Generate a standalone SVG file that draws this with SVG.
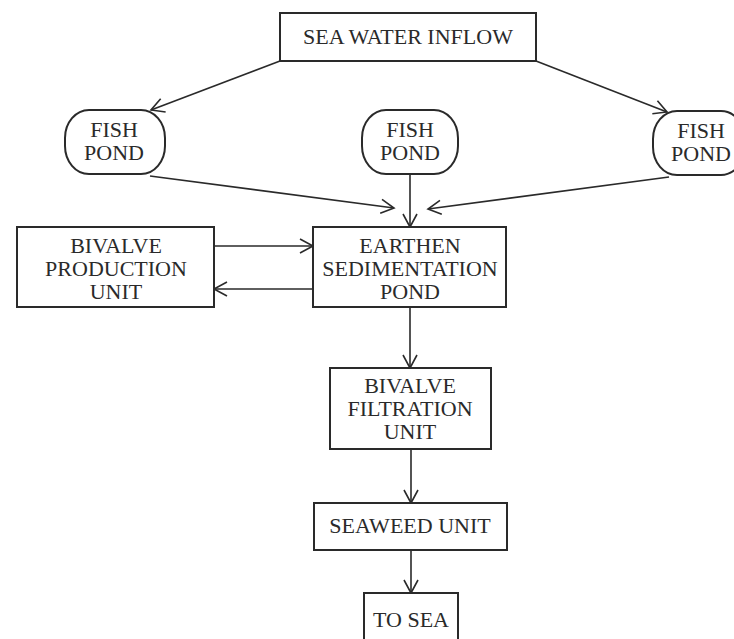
<svg xmlns="http://www.w3.org/2000/svg" width="734" height="639" viewBox="0 0 734 639">
<style>
.box{fill:#fff;stroke:#2a2a2a;stroke-width:2}
.lbl{font-family:'Liberation Serif','DejaVu Serif','Times New Roman',serif;font-size:22px;fill:#2a2a2a;text-anchor:middle}
.con{fill:none;stroke:#2a2a2a;stroke-width:1.6;marker-end:url(#arr)}
</style>
<defs>
<marker id="arr" markerUnits="userSpaceOnUse" markerWidth="18" markerHeight="18" viewBox="0 0 18 18" refX="16" refY="9" orient="auto">
<path d="M3,2 L16,9 L3,16" fill="none" stroke="#2a2a2a" stroke-width="1.6"/>
</marker>
</defs>
<rect width="734" height="639" fill="#fff"/>
<g id="connectors">
<line class="con" x1="280" y1="61" x2="151" y2="110"/>
<line class="con" x1="536" y1="61" x2="667" y2="112"/>
<line class="con" x1="150" y1="176" x2="394" y2="208"/>
<line class="con" x1="410" y1="174" x2="410" y2="227"/>
<line class="con" x1="669" y1="177" x2="428" y2="209"/>
<line class="con" x1="214" y1="246" x2="313" y2="246"/>
<line class="con" x1="313" y1="289" x2="214" y2="289"/>
<line class="con" x1="410" y1="307" x2="410" y2="368"/>
<line class="con" x1="411" y1="449" x2="411" y2="503"/>
<line class="con" x1="411" y1="550" x2="411" y2="593"/>
</g>
<g id="sea-water-inflow">
<rect class="box" x="280" y="13" width="256" height="48"/>
<text class="lbl" x="408" y="44" font-family="Liberation Serif, serif">SEA WATER INFLOW</text>
</g>
<g id="fish-pond-left">
<rect class="box" x="65" y="110" width="100" height="64" rx="24" ry="28"/>
<text class="lbl" x="114" y="137">FISH</text>
<text class="lbl" x="114" y="160">POND</text>
</g>
<g id="fish-pond-center">
<rect class="box" x="362" y="110" width="96" height="64" rx="24" ry="28"/>
<text class="lbl" x="410" y="137">FISH</text>
<text class="lbl" x="410" y="160">POND</text>
</g>
<g id="fish-pond-right">
<rect class="box" x="653" y="111" width="92" height="64" rx="24" ry="28"/>
<text class="lbl" x="701" y="138">FISH</text>
<text class="lbl" x="701" y="161">POND</text>
</g>
<g id="bivalve-production">
<rect class="box" x="17" y="227" width="197" height="80"/>
<text class="lbl" x="116" y="253">BIVALVE</text>
<text class="lbl" x="116" y="276">PRODUCTION</text>
<text class="lbl" x="116" y="299">UNIT</text>
</g>
<g id="earthen-sedimentation">
<rect class="box" x="313" y="227" width="193" height="80"/>
<text class="lbl" x="410" y="253">EARTHEN</text>
<text class="lbl" x="410" y="276">SEDIMENTATION</text>
<text class="lbl" x="410" y="299">POND</text>
</g>
<g id="bivalve-filtration">
<rect class="box" x="330" y="368" width="161" height="81"/>
<text class="lbl" x="410" y="393">BIVALVE</text>
<text class="lbl" x="410" y="416">FILTRATION</text>
<text class="lbl" x="410" y="439">UNIT</text>
</g>
<g id="seaweed-unit">
<rect class="box" x="314" y="503" width="193" height="47"/>
<text class="lbl" x="410" y="533">SEAWEED UNIT</text>
</g>
<g id="to-sea">
<rect class="box" x="364" y="593" width="94" height="60"/>
<text class="lbl" x="411" y="627">TO SEA</text>
</g>
</svg>
